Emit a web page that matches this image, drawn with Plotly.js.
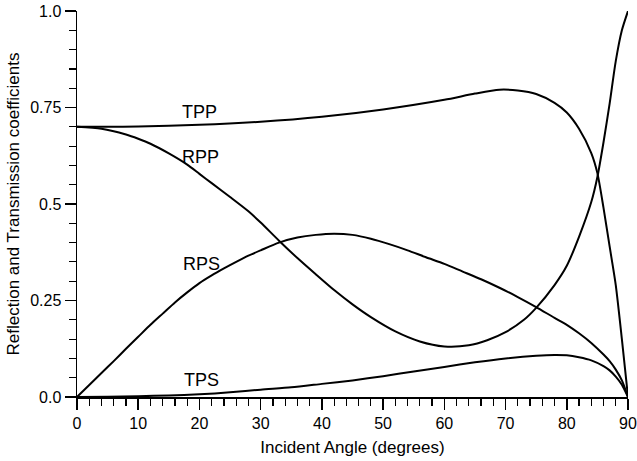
<!DOCTYPE html>
<html>
<head>
<meta charset="utf-8">
<script src="https://cdn.plot.ly/plotly-3.0.1.min.js"></script>
<style>html,body{margin:0;padding:0;background:#fff;}#chart{width:637px;height:461px;}</style>
</head>
<body>
<div id="chart"></div>
<script>
// Incident angle (degrees) and coefficients
const tppX = [0,10,20,30,40,50,60,65,69,72,75,78,80,82,84,85,86,87,88,89,90];
const tppY = [0.700,0.701,0.705,0.713,0.726,0.745,0.770,0.786,0.796,0.794,0.785,0.762,0.737,0.695,0.632,0.580,0.490,0.390,0.290,0.150,0.0];

const rppX = [0,4,8,10,12,15,18,20,22,25,28,30,33,36,39,42,45,48,52,56,60,64,67,70,73,75,78,80,82,84,85,86,87,88,89,90];
const rppY = [0.700,0.695,0.680,0.669,0.656,0.631,0.602,0.578,0.554,0.518,0.481,0.452,0.405,0.360,0.318,0.277,0.240,0.207,0.170,0.144,0.131,0.134,0.147,0.168,0.200,0.231,0.290,0.340,0.415,0.505,0.570,0.660,0.760,0.870,0.950,1.0];

const rpsX = [0,2,4,6,8,10,12,14,16,18,20,22,24,26,28,30,33,36,39,42,45,48,51,54,57,60,63,66,69,72,75,78,80,82,84,86,87,88,89,90];
const rpsY = [0,0.031,0.062,0.093,0.125,0.156,0.187,0.216,0.245,0.271,0.295,0.315,0.333,0.350,0.366,0.380,0.400,0.413,0.420,0.423,0.420,0.410,0.396,0.380,0.362,0.345,0.325,0.305,0.283,0.259,0.233,0.205,0.187,0.165,0.140,0.110,0.093,0.071,0.043,0];

const tpsX = [0,5,10,15,20,25,30,35,40,45,50,55,60,65,70,75,78,80,82,84,86,87,88,89,90];
const tpsY = [0,0.0005,0.002,0.004,0.007,0.012,0.019,0.025,0.034,0.043,0.054,0.066,0.078,0.090,0.100,0.107,0.109,0.108,0.103,0.095,0.080,0.069,0.053,0.032,0];

const yTickVals = [0,0.25,0.5,0.75,1.0];
const yTickText = ['0.0','0.25','0.5','0.75','1.0'];
const xTickVals = [0,10,20,30,40,50,60,70,80,90];

const labels = [
  {name:'TPP', x:20, y:0.738},
  {name:'RPP', x:20.1, y:0.622},
  {name:'RPS', x:20.3, y:0.345},
  {name:'TPS', x:20.3, y:0.043}
];

const lineStyle = {color:'#000', width:2, shape:'spline', smoothing:0.7};
const traces = [
  {x:tppX, y:tppY, name:'TPP'},
  {x:rppX, y:rppY, name:'RPP'},
  {x:rpsX, y:rpsY, name:'RPS'},
  {x:tpsX, y:tpsY, name:'TPS'}
].map(t => Object.assign(t, {type:'scatter', mode:'lines', line:lineStyle, hoverinfo:'skip'}));

const font = {family:'Liberation Sans, Arial, Helvetica, sans-serif', color:'#000'};

const layout = {
  width:637, height:461,
  margin:{l:77, r:9, t:11, b:64},
  paper_bgcolor:'#fff', plot_bgcolor:'#fff',
  showlegend:false,
  font:Object.assign({size:16}, font),
  xaxis:{
    range:[0,90], showgrid:false, zeroline:false,
    showline:true, linecolor:'#000', linewidth:1.5,
    tickmode:'array', tickvals:xTickVals,
    ticks:'outside', ticklen:11, tickwidth:1.5, tickcolor:'#000',
    tickfont:Object.assign({size:16}, font),
    minor:{dtick:2, tick0:0, ticks:'outside', ticklen:7, tickwidth:1.2, tickcolor:'#000', showgrid:false},
    title:{text:'Incident Angle (degrees)', font:Object.assign({size:17}, font), standoff:10}
  },
  yaxis:{
    range:[0,1.0], showgrid:false, zeroline:false,
    showline:true, linecolor:'#000', linewidth:1.5,
    tickmode:'array', tickvals:yTickVals, ticktext:yTickText,
    ticks:'outside', ticklen:11, tickwidth:1.5, tickcolor:'#000',
    tickfont:Object.assign({size:16}, font),
    minor:{dtick:0.05, tick0:0, ticks:'outside', ticklen:7, tickwidth:1.2, tickcolor:'#000', showgrid:false},
    title:{text:'Reflection and Transmission coefficients', font:Object.assign({size:17}, font), standoff:6}
  },
  annotations: labels.map(l => ({
    x:l.x, y:l.y, xref:'x', yref:'y', text:l.name, showarrow:false,
    font:Object.assign({size:18}, font), xanchor:'center', yanchor:'middle'
  }))
};

Plotly.newPlot('chart', traces, layout, {displayModeBar:false, staticPlot:true});
</script>
</body>
</html>
